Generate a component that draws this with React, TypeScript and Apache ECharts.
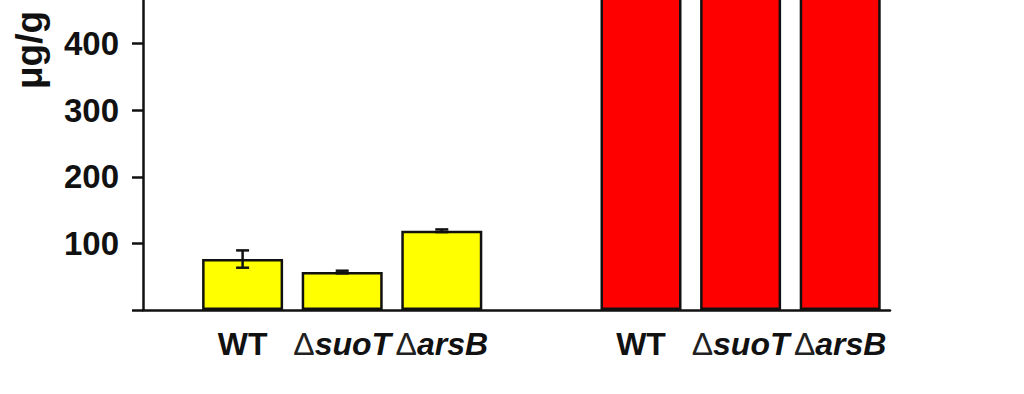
import React, { useEffect, useRef } from "react";
import * as echarts from "echarts";

const groupLabels = ["WT", "ΔsuoT", "ΔarsB", "WT", "ΔsuoT", "ΔarsB"];
const xPositions = [1, 2, 3, 5, 6, 7];
const values = [76.5, 57, 119, 1000, 1000, 1000];
const errors = [13, 2, 2, 0, 0, 0];
const barColors = ["#FFFF00", "#FFFF00", "#FFFF00", "#FF0000", "#FF0000", "#FF0000"];
const yTickLabels = [100, 200, 300, 400];

const FONT = '"Liberation Sans", Arial, sans-serif';

export default function App() {
  const ref = useRef<HTMLDivElement>(null);
  useEffect(() => {
    if (!ref.current) return;
    const chart = echarts.init(ref.current, undefined, { renderer: "svg" });
    const labelFor = (v: number) => {
      const i = xPositions.indexOf(v);
      if (i < 0) return "";
      const name = groupLabels[i];
      if (name.startsWith("Δ")) return "{d|Δ}{i|" + name.slice(1) + "}";
      return "{b|" + name + "}";
    };
    const errData = xPositions
      .map((x, i) => ({ x, v: values[i], e: errors[i] }))
      .filter((d) => d.e > 0)
      .map((d) => [d.x, d.v - d.e, d.v + d.e]);
    chart.setOption({
      animation: false,
      backgroundColor: "#ffffff",
      grid: { left: 143, right: 134, top: 17, bottom: 84 },
      xAxis: {
        type: "value",
        min: 0,
        max: 7.5,
        interval: 1,
        splitLine: { show: false },
        axisTick: { show: false },
        axisLine: { show: true, lineStyle: { color: "#111", width: 2.5 } },
        axisLabel: {
          margin: 18,
          showMaxLabel: false,
          formatter: labelFor,
          rich: {
            b: { fontFamily: FONT, fontWeight: "bold", fontSize: 32, color: "#111" },
            d: { fontFamily: FONT, fontWeight: "normal", fontSize: 32, color: "#222" },
            i: { fontFamily: FONT, fontWeight: "bold", fontStyle: "italic", fontSize: 32, color: "#111" },
          },
        },
      },
      yAxis: {
        type: "value",
        min: 0,
        max: 500,
        interval: 100,
        splitLine: { show: false },
        axisLine: { show: true, lineStyle: { color: "#111", width: 2.5 } },
        axisTick: { show: true, inside: false, length: 11, lineStyle: { color: "#111", width: 2.5 } },
        axisLabel: {
          margin: 24,
          fontFamily: FONT,
          fontWeight: "bold",
          fontSize: 33,
          color: "#111",
          formatter: (v: number) => (yTickLabels.includes(v) ? String(v) : ""),
        },
      },
      graphic: [
        {
          type: "text",
          x: 29,
          y: 90,
          rotation: Math.PI / 2,
          style: {
            text: "μg/g",
            fontFamily: FONT,
            fontWeight: "bold",
            fontSize: 37,
            fill: "#111",
            textAlign: "center",
            textVerticalAlign: "middle",
          },
        },
      ],
      series: [
        {
          type: "bar",
          barWidth: 81,
          clip: true,
          data: xPositions.map((x, i) => ({
            value: [x, values[i]],
            itemStyle: { color: barColors[i], borderColor: "#111", borderWidth: 2.5 },
          })),
        },
        {
          type: "custom",
          clip: true,
          data: errData,
          renderItem: (params: any, api: any) => {
            const x = api.value(0);
            const lo = api.coord([x, api.value(1)]);
            const hi = api.coord([x, api.value(2)]);
            const cap = 6.5;
            const style = { stroke: "#111", lineWidth: 2.5 };
            return {
              type: "group",
              children: [
                { type: "line", shape: { x1: lo[0], y1: lo[1], x2: hi[0], y2: hi[1] }, style },
                { type: "line", shape: { x1: lo[0] - cap, y1: lo[1], x2: lo[0] + cap, y2: lo[1] }, style },
                { type: "line", shape: { x1: hi[0] - cap, y1: hi[1], x2: hi[0] + cap, y2: hi[1] }, style },
              ],
            };
          },
          z: 5,
        },
      ],
    });
    return () => chart.dispose();
  }, []);
  return (
    <div style={{ position: "fixed", left: 0, top: 0, width: 1024, height: 394, overflow: "hidden", background: "#fff" }}>
      <div ref={ref} style={{ position: "absolute", left: 0, top: -40, width: 1024, height: 434 }} />
    </div>
  );
}
